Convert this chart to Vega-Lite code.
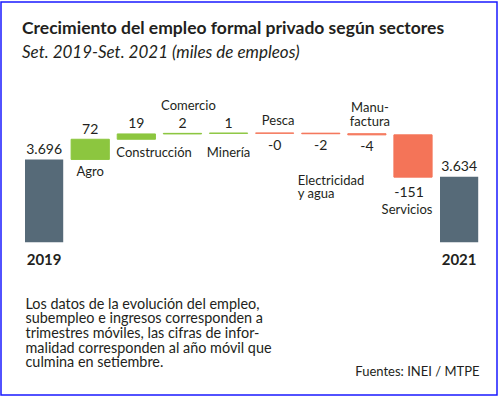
{
  "$schema": "https://vega.github.io/schema/vega-lite/v6.json",
  "width": 496,
  "height": 393,
  "padding": {"left": 1, "top": 2, "right": 3, "bottom": 4},
  "autosize": {"type": "none"},
  "background": "white",
  "config": {
    "font": "Lato",
    "view": {"stroke": "#1a1aff", "strokeWidth": 1.5},
    "text": {"color": "#231f20"}
  },
  "title": {
    "text": "Crecimiento del empleo formal privado según sectores",
    "subtitle": "Set. 2019-Set. 2021 (miles de empleos)",
    "anchor": "start",
    "frame": "group",
    "dx": 21,
    "offset": -59,
    "fontSize": 17.5,
    "fontWeight": "bold",
    "color": "#231f20",
    "subtitleFontSize": 17,
    "subtitleFontStyle": "italic",
    "subtitleColor": "#231f20",
    "subtitlePadding": 8
  },
  "data": {
    "values": [
      {"sector": "2019", "kind": "total", "start": null, "end": 3696, "label": "3.696", "name": ""},
      {"sector": "Agro", "kind": "up", "start": 3696, "end": 3768, "label": "72", "name": "Agro"},
      {"sector": "Construcción", "kind": "up", "start": 3768, "end": 3787, "label": "19", "name": "Construcción"},
      {"sector": "Comercio", "kind": "up", "start": 3787, "end": 3789, "label": "2", "name": "Comercio"},
      {"sector": "Minería", "kind": "up", "start": 3789, "end": 3790, "label": "1", "name": "Minería"},
      {"sector": "Pesca", "kind": "down", "start": 3790, "end": 3789.7, "label": "-0", "name": "Pesca"},
      {"sector": "Electricidad y agua", "kind": "down", "start": 3789.7, "end": 3787.7, "label": "-2", "name": "Electricidad\ny agua"},
      {"sector": "Manufactura", "kind": "down", "start": 3787.7, "end": 3783.7, "label": "-4", "name": "Manu-\nfactura"},
      {"sector": "Servicios", "kind": "down", "start": 3783.7, "end": 3632.7, "label": "-151", "name": "Servicios"},
      {"sector": "2021", "kind": "total", "start": null, "end": 3634, "label": "3.634", "name": ""}
    ]
  },
  "encoding": {
    "x": {
      "field": "sector",
      "type": "nominal",
      "sort": ["2019", "Agro", "Construcción", "Comercio", "Minería", "Pesca", "Electricidad y agua", "Manufactura", "Servicios", "2021"],
      "scale": {"paddingInner": 0.1714, "paddingOuter": 0.464, "align": 0.561},
      "axis": {
        "offset": -152.7,
        "domain": false,
        "ticks": false,
        "tickSize": 0,
        "labelAngle": 0,
        "labelPadding": 21.7,
        "labelBaseline": "alphabetic",
        "labelFontSize": 15,
        "labelFontWeight": "bold",
        "labelColor": "#231f20",
        "labelExpr": "datum.value == '2019' || datum.value == '2021' ? datum.value : ''",
        "title": [
          "Los datos de la evolución del empleo,",
          "subempleo e ingresos corresponden a",
          "trimestres móviles, las cifras de infor-",
          "malidad corresponden al año móvil que",
          "culmina en setiembre."
        ],
        "titleAnchor": "start",
        "titleAlign": "left",
        "titleBaseline": "alphabetic",
        "titleX": 24,
        "titleY": 66,
        "titleLineHeight": 14.6,
        "titleFontSize": 14.4,
        "titleFontWeight": "normal",
        "titleColor": "#231f20"
      }
    }
  },
  "layer": [
    {
      "transform": [{"filter": "datum.kind == 'total'"}],
      "mark": {"type": "bar", "color": "#566a78"},
      "encoding": {
        "y": {
          "field": "end",
          "type": "quantitative",
          "scale": {"domain": [2854.6, 4258.2], "zero": false, "nice": false},
          "axis": {
            "labels": false,
            "ticks": false,
            "domain": false,
            "grid": false,
            "title": "Fuentes: INEI / MTPE",
            "titleAngle": 0,
            "titleAlign": "right",
            "titleBaseline": "alphabetic",
            "titleX": 478,
            "titleY": 373.7,
            "titleFontSize": 13,
            "titleFontWeight": "normal",
            "titleColor": "#231f20"
          }
        },
        "y2": {"datum": 3400}
      }
    },
    {
      "transform": [{"filter": "datum.kind != 'total'"}],
      "mark": {"type": "bar", "strokeWidth": 1},
      "encoding": {
        "y": {"field": "start", "type": "quantitative"},
        "y2": {"field": "end"},
        "color": {
          "field": "kind",
          "type": "nominal",
          "scale": {"domain": ["up", "down"], "range": ["#8cc63f", "#f47458"]},
          "legend": null
        },
        "stroke": {
          "field": "kind",
          "type": "nominal",
          "scale": {"domain": ["up", "down"], "range": ["#8cc63f", "#f47458"]},
          "legend": null
        }
      }
    },
    {
      "transform": [{"filter": "datum.kind != 'down'"}],
      "mark": {"type": "text", "fontSize": 14, "baseline": "alphabetic", "dy": -5.5},
      "encoding": {
        "y": {"field": "end", "type": "quantitative"},
        "text": {"field": "label"}
      }
    },
    {
      "transform": [{"filter": "datum.kind == 'down' && datum.sector != 'Servicios'"}],
      "mark": {"type": "text", "fontSize": 14, "baseline": "alphabetic", "dy": 16.5},
      "encoding": {
        "y": {"field": "end", "type": "quantitative"},
        "text": {"field": "label"}
      }
    },
    {
      "transform": [{"filter": "datum.sector == 'Servicios'"}],
      "mark": {"type": "text", "fontSize": 14, "baseline": "alphabetic", "dy": 19.6, "dx": -4},
      "encoding": {
        "y": {"field": "end", "type": "quantitative"},
        "text": {"field": "label"}
      }
    },
    {
      "transform": [{"filter": "datum.sector == 'Servicios'"}],
      "mark": {"type": "text", "fontSize": 13, "baseline": "alphabetic", "dy": 37, "dx": -6},
      "encoding": {
        "y": {"field": "end", "type": "quantitative"},
        "text": {"field": "name"}
      }
    },
    {
      "transform": [{"filter": "datum.sector == 'Agro'"}],
      "mark": {"type": "text", "fontSize": 13, "baseline": "alphabetic", "dy": 17},
      "encoding": {
        "y": {"field": "start", "type": "quantitative"},
        "text": {"field": "name"}
      }
    },
    {
      "transform": [{"filter": "datum.sector == 'Construcción'"}],
      "mark": {"type": "text", "fontSize": 13, "baseline": "alphabetic", "align": "left", "dx": -20, "dy": 17.5},
      "encoding": {
        "y": {"field": "start", "type": "quantitative"},
        "text": {"field": "name"}
      }
    },
    {
      "transform": [{"filter": "datum.sector == 'Minería'"}],
      "mark": {"type": "text", "fontSize": 13, "baseline": "alphabetic", "dy": 23.3},
      "encoding": {
        "y": {"field": "start", "type": "quantitative"},
        "text": {"field": "name"}
      }
    },
    {
      "transform": [{"filter": "datum.sector == 'Comercio'"}],
      "mark": {"type": "text", "fontSize": 13, "baseline": "alphabetic", "dx": 6, "dy": -23.4},
      "encoding": {
        "y": {"field": "end", "type": "quantitative"},
        "text": {"field": "name"}
      }
    },
    {
      "transform": [{"filter": "datum.sector == 'Pesca'"}],
      "mark": {"type": "text", "fontSize": 13, "baseline": "alphabetic", "dx": 3.5, "dy": -8},
      "encoding": {
        "y": {"field": "start", "type": "quantitative"},
        "text": {"field": "name"}
      }
    },
    {
      "transform": [{"filter": "datum.sector == 'Manufactura'"}],
      "mark": {"type": "text", "fontSize": 13, "baseline": "alphabetic", "lineBreak": "\n", "lineHeight": 14.3, "dx": 3, "dy": -22},
      "encoding": {
        "y": {"field": "start", "type": "quantitative"},
        "text": {"field": "name"}
      }
    },
    {
      "transform": [{"filter": "datum.sector == 'Electricidad y agua'"}],
      "mark": {"type": "text", "fontSize": 13, "baseline": "alphabetic", "lineBreak": "\n", "lineHeight": 13.3, "align": "left", "dx": -23, "dy": 51},
      "encoding": {
        "y": {"field": "end", "type": "quantitative"},
        "text": {"field": "name"}
      }
    }
  ]
}
